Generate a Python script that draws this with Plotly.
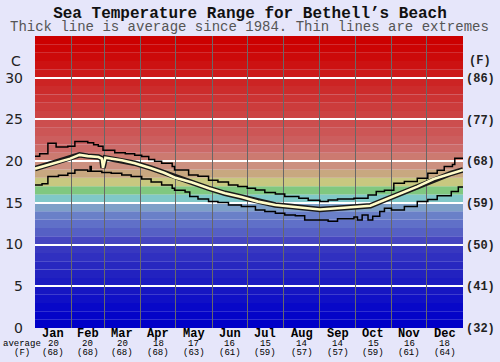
import plotly.graph_objects as go

# ---------------- data ----------------
months = ["Jan", "Feb", "Mar", "Apr", "May", "Jun", "Jul", "Aug", "Sep", "Oct", "Nov", "Dec"]
month_start = [0, 31, 59, 90, 120, 151, 181, 212, 243, 273, 304, 334, 365]
avg_c = [20, 20, 20, 18, 17, 16, 15, 14, 14, 15, 16, 18]
avg_f = [68, 68, 68, 68, 63, 61, 59, 57, 57, 59, 61, 64]

y_ticks_c = [0, 5, 10, 15, 20, 25, 30]
y_ticks_f = ["(32)", "(41)", "(50)", "(59)", "(68)", "(77)", "(86)"]

max_day = [0, 4, 11, 18, 28, 34, 45, 50, 54, 58, 68, 77, 85, 91, 97, 102, 108, 117,
           119, 131, 139, 148, 156, 165, 173, 181, 188, 196, 205, 213, 225, 233, 243,
           250, 258, 272, 284, 291, 298, 306, 315, 326, 335, 343, 349, 356, 358, 365]
max_val = [20.6, 20.9, 22.15, 21.7, 21.8, 22.35, 22.2, 21.95, 21.8, 21.3, 21.0, 20.9, 20.7, 20.55, 20.2, 20.0, 19.75, 19.35,
           18.95, 18.35, 18.2, 17.7, 17.5, 17.15, 16.95, 16.75, 16.55, 16.25, 16.05, 15.75, 15.55, 15.3, 15.15,
           15.35, 15.45, 15.55, 15.95, 16.35, 16.5, 17.35, 17.55, 17.95, 18.55, 18.9, 19.35, 19.6, 20.35, 20.35]

min_day = [0, 6, 11, 20, 28, 34, 45, 47, 48, 57, 65, 74, 82, 91, 99, 108, 117,
           119, 128, 132, 139, 148, 156, 165, 176, 188, 196, 205, 213, 222, 230,
           250, 258, 272, 275, 279, 284, 288, 294, 298, 304, 315, 326, 335, 343, 355, 361, 365]
min_val = [17.15, 17.3, 18.15, 18.3, 18.55, 18.95, 18.8, 19.35, 18.8, 18.65, 18.55, 18.35, 18.15, 17.85, 17.5, 17.15, 16.75,
           16.5, 16.3, 15.75, 15.45, 15.15, 15.05, 14.75, 14.55, 14.15, 13.95, 13.75, 13.55, 13.45, 12.95,
           12.8, 13.1, 13.3, 12.95, 13.55, 12.95, 13.4, 13.95, 14.35, 14.15, 14.55, 15.15, 15.4, 15.85, 16.35, 16.9, 16.9]

avg_day = [0, 10, 20, 30, 38, 45, 54, 57, 58, 60, 74, 85, 99, 110, 119, 134, 148, 162, 176, 190,
           205, 219, 233, 243, 258, 286, 298, 312, 326, 340, 355, 365]
avg_val = [19.1, 19.5, 19.9, 20.3, 20.75, 20.6, 20.5, 20.3, 19.2, 20.4, 20.1, 19.75, 19.15, 18.6, 18.05, 17.45, 16.75, 16.15, 15.7, 15.15,
           14.75, 14.55, 14.35, 14.2, 14.35, 14.65, 15.35, 16.15, 16.95, 17.85, 18.55, 18.95]

# background band colours, one per degree from 0 to 35
band_colors = [
    "#0000c8", "#0404c8", "#0808c8", "#1010c6", "#1616c2",
    "#1c1cc0", "#2222c0", "#2828c0", "#3030c0", "#3838c0",
    "#4646c0", "#5660c4", "#6070c8", "#6a80c8", "#7ea0c8",
    "#80c8c8", "#80c880", "#c8c880", "#c8a880", "#cc9080",
    "#cc7a70", "#cc6a68", "#cc5e5e", "#cc5656", "#cc4e4e",
    "#cc4444", "#cc3c3c", "#cc3434", "#cc2c2c", "#cc2424",
    "#cc1a1a", "#cc1212", "#cc0a0a", "#cc0404", "#cc0000",
]

# ---------------- figure ----------------
mono = "Liberation Mono, Courier New, monospace"
mid = [(month_start[i] + month_start[i + 1]) / 2 for i in range(12)]

fig = go.Figure()

fig.add_trace(go.Scatter(x=max_day, y=max_val, mode="lines", line=dict(color="black", width=1.5, shape="hv"),
                         hoverinfo="skip", showlegend=False))
fig.add_trace(go.Scatter(x=min_day, y=min_val, mode="lines", line=dict(color="black", width=1.5, shape="hv"),
                         hoverinfo="skip", showlegend=False, yaxis="y2"))
fig.add_trace(go.Scatter(x=avg_day, y=avg_val, mode="lines", line=dict(color="#1a1a1a", width=5.5),
                         hoverinfo="skip", showlegend=False))
fig.add_trace(go.Scatter(x=avg_day, y=avg_val, mode="lines", line=dict(color="#fffcc8", width=2.6),
                         hoverinfo="skip", showlegend=False))

shapes = []
for i, c in enumerate(band_colors):
    shapes.append(dict(type="rect", xref="x", yref="y", x0=0, x1=365, y0=i, y1=i + 1,
                       fillcolor=c, line=dict(width=0), layer="below"))

val_font = dict(family=mono, size=9, color="black")
annotations = []
for i in range(12):
    annotations.append(dict(x=mid[i], y=0, xref="x", yref="y", yshift=-6, text=f"<b>{months[i]}</b>",
                            showarrow=False, font=dict(family=mono, size=12, color="black"),
                            xanchor="center", yanchor="middle", borderpad=0))
    annotations.append(dict(x=mid[i], y=0, xref="x", yref="y", yshift=-16, text=str(avg_c[i]),
                            showarrow=False, font=val_font, xanchor="center", yanchor="middle", borderpad=0))
    annotations.append(dict(x=mid[i], y=0, xref="x", yref="y", yshift=-25, text=f"({avg_f[i]})",
                            showarrow=False, font=val_font, xanchor="center", yanchor="middle", borderpad=0))
annotations += [
    dict(x=-0.031, y=0, xref="paper", yref="y", yshift=-16, text="average", showarrow=False,
         font=val_font, xanchor="center", yanchor="middle", borderpad=0),
    dict(x=-0.031, y=0, xref="paper", yref="y", yshift=-25, text="(F)", showarrow=False,
         font=val_font, xanchor="center", yanchor="middle", borderpad=0),
    dict(x=0, y=32, xref="paper", yref="y", xshift=-12, text="C", showarrow=False,
         font=dict(family="DejaVu Sans, sans-serif", size=14, color="#222"), xanchor="right", yanchor="middle"),
    dict(x=1, y=32, xref="paper", yref="y", xshift=4, text="<b>(F)</b>", showarrow=False,
         font=dict(family=mono, size=12, color="#222"), xanchor="left", yanchor="middle"),
    dict(x=0.5, y=1.031, xref="paper", yref="paper", text="Thick line is average since 1984. Thin lines are extremes",
         showarrow=False, font=dict(family=mono, size=14, color="#555"), xanchor="center", yanchor="middle"),
]

fig.update_layout(
    width=500, height=362,
    margin=dict(l=35, r=37, t=36, b=34, autoexpand=False),
    paper_bgcolor="#e6e6fa",
    plot_bgcolor="#e6e6fa",
    title=dict(text="<b>Sea Temperature Range for Bethell’s Beach</b>", x=0.5, xanchor="center",
               y=1 - 12 / 362, yanchor="middle", yref="container", automargin=False,
               font=dict(family=mono, size=16, color="#111")),
    shapes=shapes,
    annotations=annotations,
    xaxis=dict(range=[0, 365], tickvals=month_start[1:-1], showticklabels=False, ticks="",
               showgrid=True, gridcolor="#686868", gridwidth=1,
               zeroline=False, showline=False, fixedrange=True, automargin=False),
    yaxis=dict(range=[0, 35], tickvals=y_ticks_c, ticktext=[str(v) for v in y_ticks_c],
               tickfont=dict(family="DejaVu Sans, sans-serif", size=14, color="#222"), automargin=False,
               showgrid=False, zeroline=False, showline=False, ticks="", ticklabelstandoff=11, fixedrange=True,
               minor=dict(tickvals=y_ticks_c[1:], showgrid=True, gridcolor="white", gridwidth=2, ticks="")),
    yaxis2=dict(range=[0, 35], overlaying="y", side="right", tickvals=y_ticks_c,
                ticktext=[f"<b>{t}</b>" for t in y_ticks_f], automargin=False, fixedrange=True,
                tickfont=dict(family=mono, size=12, color="#222"), showgrid=False, zeroline=False,
                showline=False, ticks="", ticklabelstandoff=2),
)

fig.write_html("out.html", config={"displayModeBar": False},
               post_script="document.body.style.margin='0';document.body.style.padding='0';")
